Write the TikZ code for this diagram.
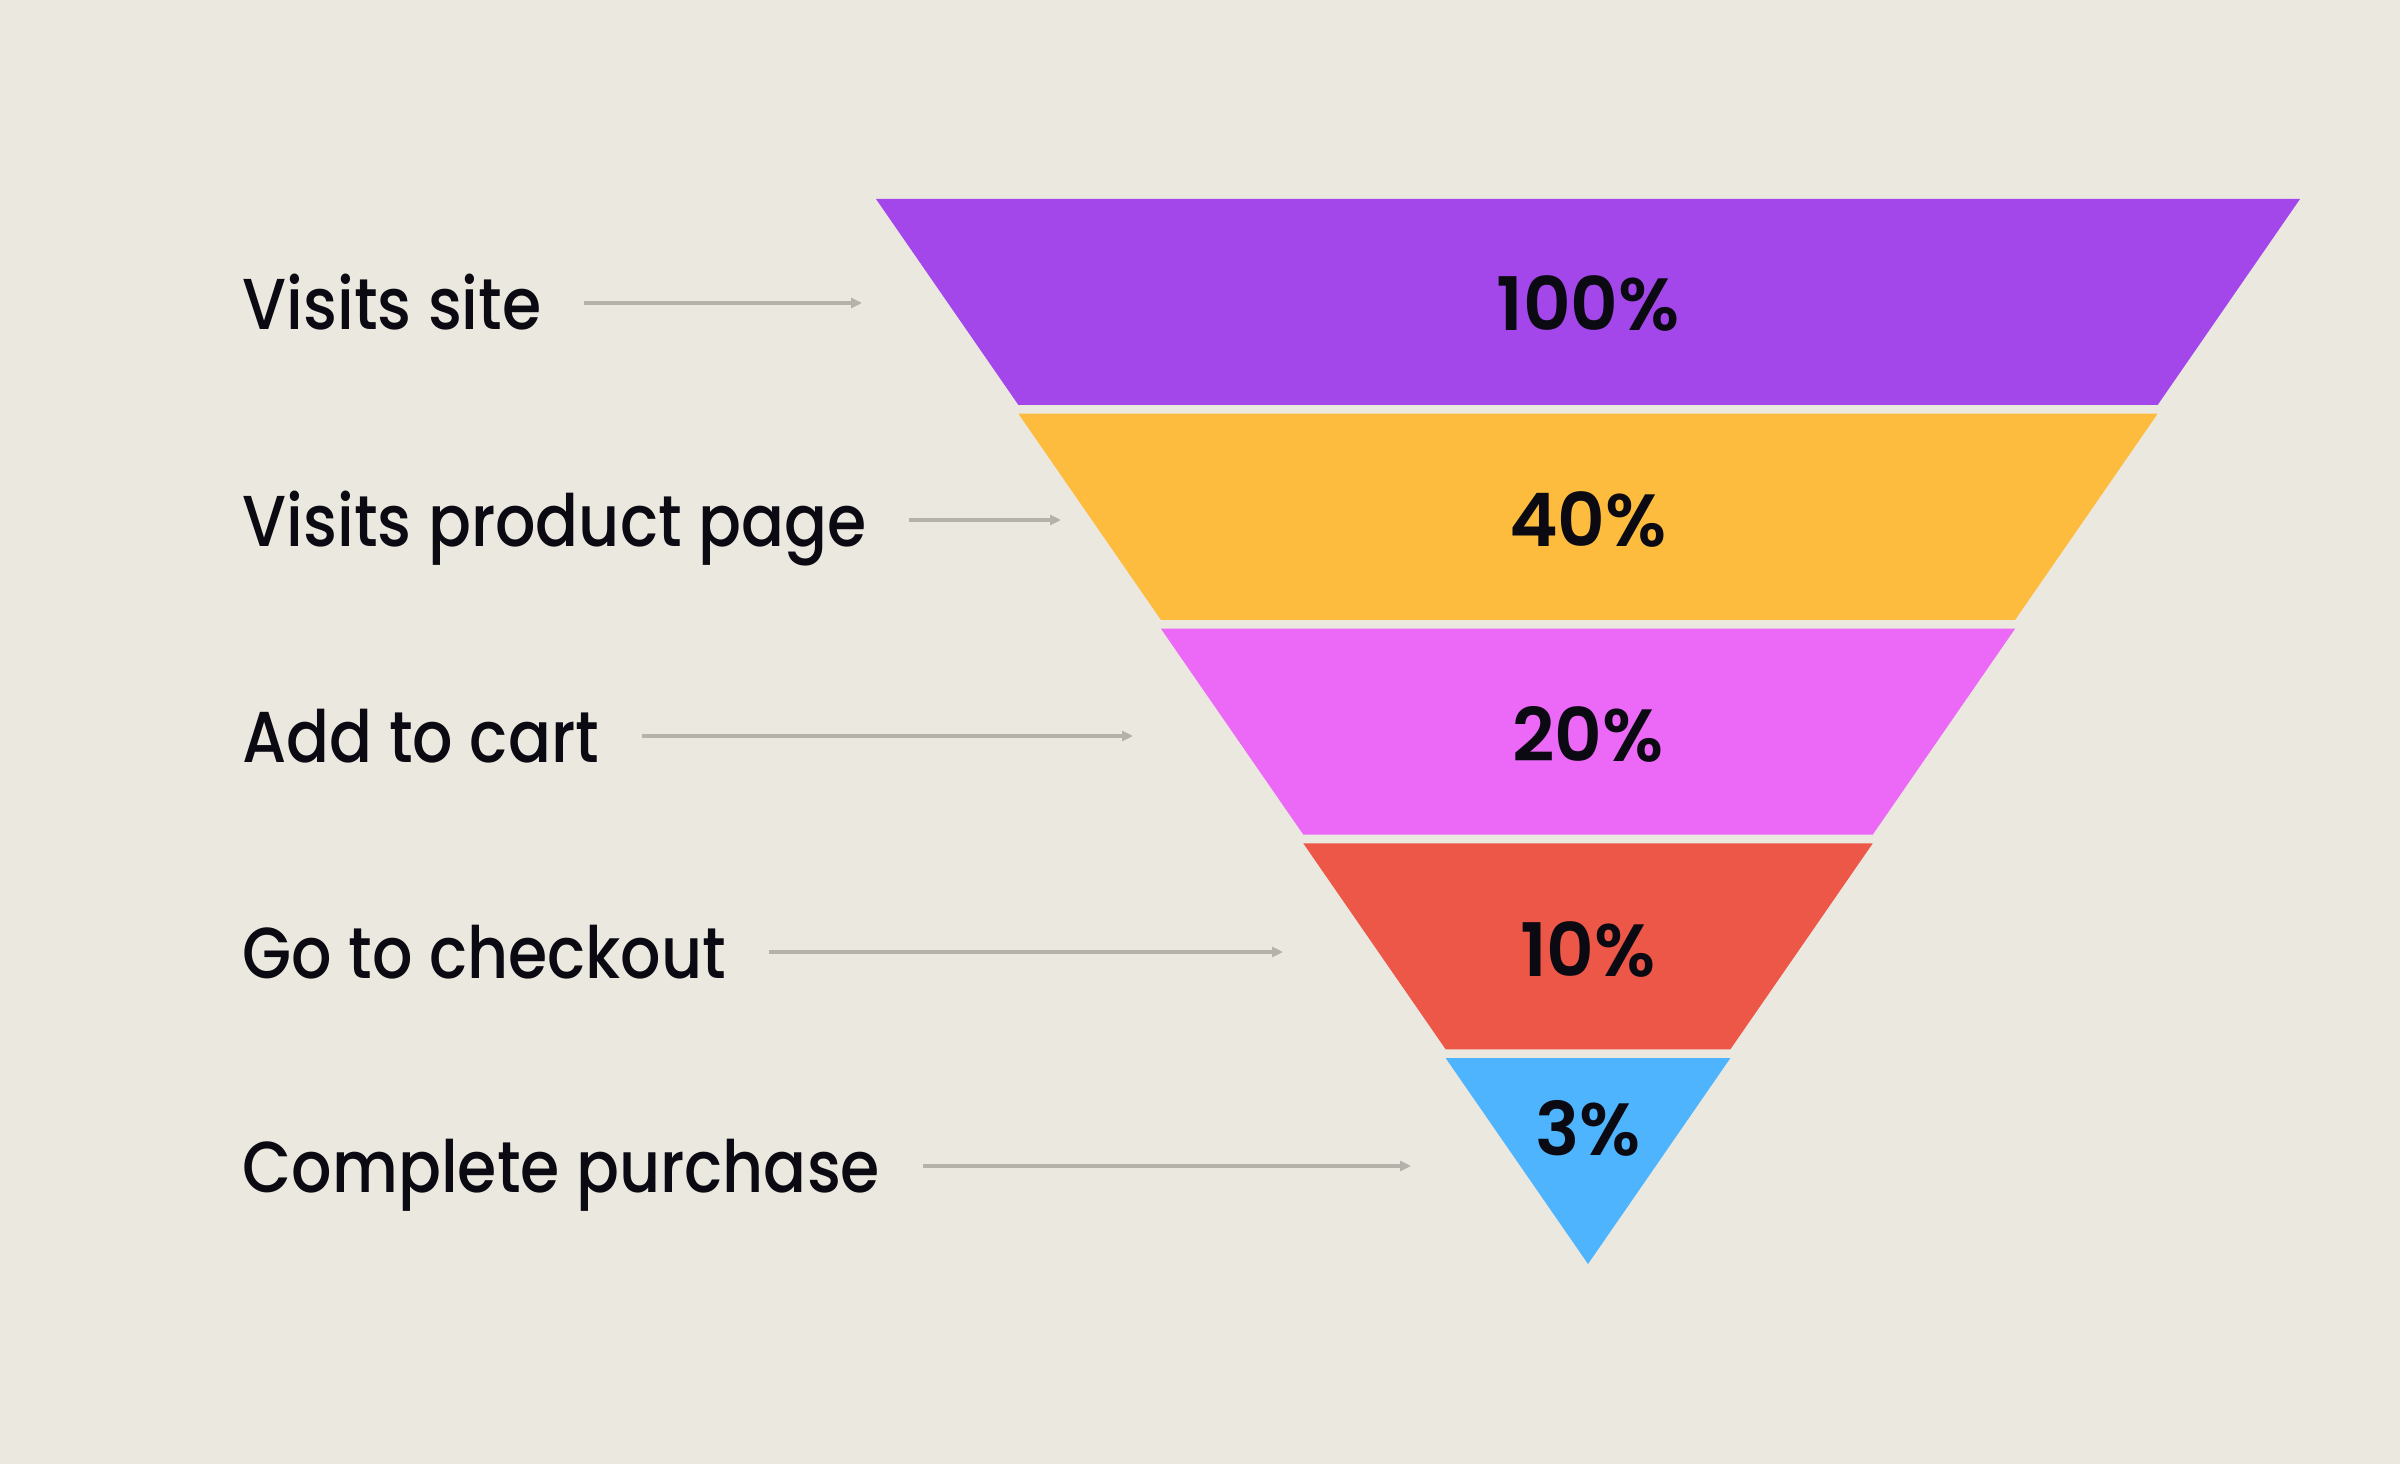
\documentclass[tikz,border=0pt]{standalone}
\usepackage{fontspec}
\setmainfont{Poppins}
\newfontfamily\labfont{Poppins Medium}[FakeStretch=0.88]
\newfontfamily\pctfont{Poppins SemiBold}
\usetikzlibrary{arrows.meta,calc}
\definecolor{bg}{HTML}{EBE8E0}
\definecolor{cpurple}{HTML}{A346EA}
\definecolor{corange}{HTML}{FDBC3D}
\definecolor{cpink}{HTML}{EB69F6}
\definecolor{cred}{HTML}{EC5748}
\definecolor{cblue}{HTML}{4EB4FD}
\definecolor{ink}{HTML}{0B0A12}
\definecolor{arrgray}{HTML}{B5B2AC}
\tikzset{
  lab/.style={anchor=base west, inner sep=0pt, text=ink, font=\labfont\fontsize{20.5pt}{24pt}\selectfont},
  pct/.style={anchor=base, inner sep=0pt, text=ink, font=\pctfont\fontsize{21pt}{24pt}\selectfont},
  arr/.style={draw=arrgray, line width=0.9pt, -{Triangle[length=0.11cm,width=0.1cm]}},
  band/.style={draw=none}
}
\begin{document}
\begin{tikzpicture}[x=0.01cm,y=-0.01cm]
\fill[bg] (0,0) rectangle (2400,1464);
\useasboundingbox (0,0) rectangle (2400,1464);
% bands: top y = 199 + 214.75 i, height 206, half widths 712,569.6,427.2,284.8,142.4,0
\fill[cpurple] (876,199) -- (2300,199) -- (2157.6,405) -- (1018.4,405) -- cycle;
\fill[corange] (1018.4,413.75) -- (2157.6,413.75) -- (2015.2,619.75) -- (1160.8,619.75) -- cycle;
\fill[cpink] (1160.8,628.5) -- (2015.2,628.5) -- (1872.8,834.5) -- (1303.2,834.5) -- cycle;
\fill[cred] (1303.2,843.25) -- (1872.8,843.25) -- (1730.4,1049.25) -- (1445.6,1049.25) -- cycle;
\fill[cblue] (1445.6,1058) -- (1730.4,1058) -- (1588,1264) -- cycle;
% percentages
\node[pct] (p1) at (1588,331) {100\%};
\node[pct] (p2) at (1588,546) {40\%};
\node[pct] (p3) at (1588,761) {20\%};
\node[pct] (p4) at (1588,976) {10\%};
\node[pct] (p5) at (1588,1155) {3\%};
% labels
\node[lab] (l1) at (242,330) {Visits site};
\node[lab] (l2) at (242,546) {Visits product page};
\node[lab] (l3) at (242,762) {Add to cart};
\node[lab] (l4) at (242,978) {Go to checkout};
\node[lab] (l5) at (242,1192) {Complete purchase};
% arrow ends
\coordinate (e1) at (862,303);
\coordinate (e2) at (1061,520);
\coordinate (e3) at (1133,736);
\coordinate (e4) at (1283,952);
\coordinate (e5) at (1411,1166);
\draw[arr] ($(l1.east |- e1)+(42,0)$) -- (e1);
\draw[arr] ($(l2.east |- e2)+(42,0)$) -- (e2);
\draw[arr] ($(l3.east |- e3)+(42,0)$) -- (e3);
\draw[arr] ($(l4.east |- e4)+(42,0)$) -- (e4);
\draw[arr] ($(l5.east |- e5)+(42,0)$) -- (e5);
\end{tikzpicture}
\end{document}
